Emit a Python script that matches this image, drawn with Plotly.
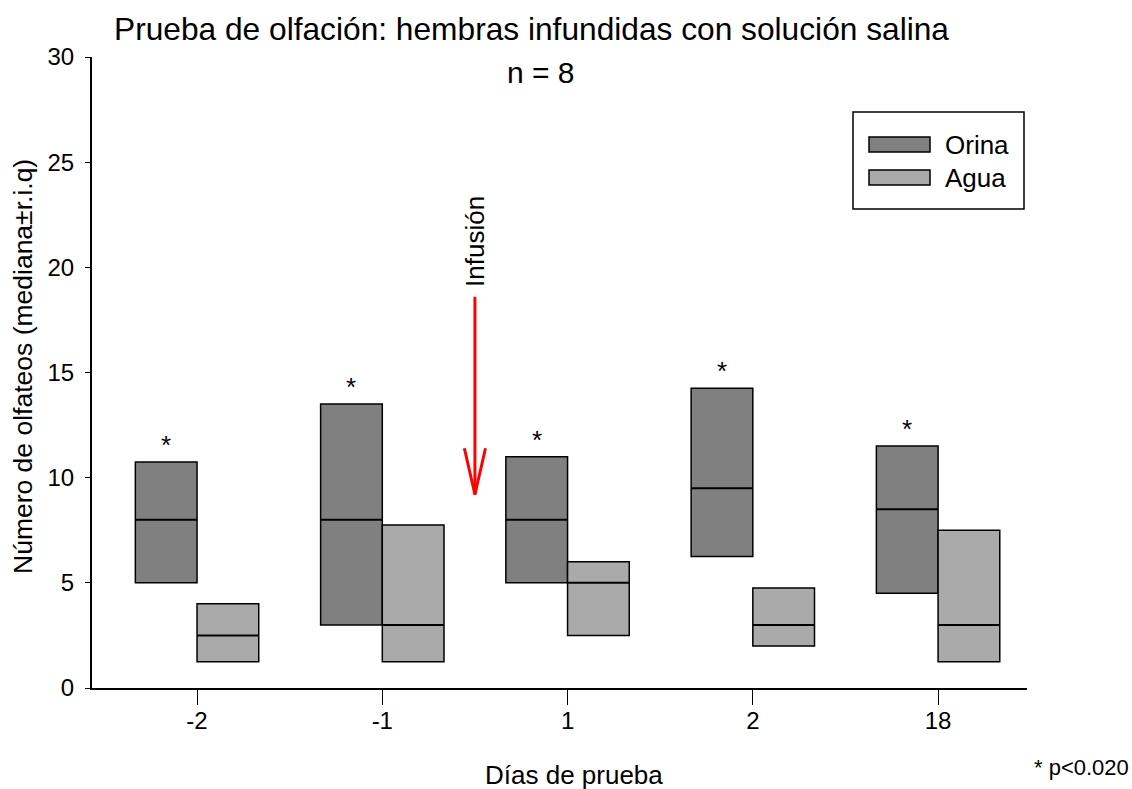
import plotly.graph_objects as go

# ---- data ----
dias = ["-2", "-1", "1", "2", "18"]
orina_q1 = [5.0, 3.0, 5.0, 6.25, 4.5]
orina_med = [8.0, 8.0, 8.0, 9.5, 8.5]
orina_q3 = [10.75, 13.5, 11.0, 14.25, 11.5]
agua_q1 = [1.25, 1.25, 2.5, 2.0, 1.25]
agua_med = [2.5, 3.0, 5.0, 3.0, 3.0]
agua_q3 = [4.0, 7.75, 6.0, 4.75, 7.5]
signif = [True, True, True, True, True]

W, H = 1132, 789
ML, MR, MT, MB = 92, 105, 57, 101
PW, PH = W - ML - MR, H - MT - MB
FONT = "Liberation Sans, Arial, sans-serif"
C_ORINA = "rgb(128,128,128)"
C_AGUA = "rgb(170,170,170)"
BW = 0.333


def px(x):
    return (x - ML) / PW


def py(y):
    return (H - MB - y) / PH


xs = list(range(len(dias)))
fig = go.Figure()
fig.add_trace(go.Bar(x=xs, base=orina_q1, y=[b - a for a, b in zip(orina_q1, orina_q3)],
                     width=BW, offset=-BW, marker=dict(color=C_ORINA, line=dict(color="black", width=1.5)),
                     name="Orina", showlegend=False))
fig.add_trace(go.Bar(x=xs, base=agua_q1, y=[b - a for a, b in zip(agua_q1, agua_q3)],
                     width=BW, offset=0, marker=dict(color=C_AGUA, line=dict(color="black", width=1.5)),
                     name="Agua", showlegend=False))

# median lines
mx, my = [], []
for i, m in enumerate(orina_med):
    mx += [i - BW, i, None]
    my += [m, m, None]
for i, m in enumerate(agua_med):
    mx += [i, i + BW, None]
    my += [m, m, None]
fig.add_trace(go.Scatter(x=mx, y=my, mode="lines", line=dict(color="black", width=2),
                         showlegend=False, hoverinfo="skip"))

ann = []
# asterisks
for i, (q3, s) in enumerate(zip(orina_q3, signif)):
    if s:
        ann.append(dict(x=i - BW / 2, y=q3, text="*", showarrow=False, yanchor="bottom",
                        font=dict(size=26, color="black", family=FONT), yshift=0))

# arrow for infusion
ARROW_X, ARROW_TOP, ARROW_TIP, V_Y, V_DX = 1.5, 18.6, 9.2, 11.4, 0.057
shapes = [
    dict(type="line", xref="x", yref="y", x0=ARROW_X, x1=ARROW_X, y0=ARROW_TOP, y1=ARROW_TIP,
         line=dict(color="red", width=3)),
    dict(type="line", xref="x", yref="y", x0=ARROW_X - V_DX, x1=ARROW_X, y0=V_Y, y1=ARROW_TIP,
         line=dict(color="red", width=3)),
    dict(type="line", xref="x", yref="y", x0=ARROW_X + V_DX, x1=ARROW_X, y0=V_Y, y1=ARROW_TIP,
         line=dict(color="red", width=3)),
]
ann.append(dict(x=ARROW_X, y=21.25, text="Infusión", textangle=-90, showarrow=False,
                xanchor="center", yanchor="middle",
                font=dict(size=26, color="black", family=FONT)))

# legend (custom)
shapes += [
    dict(type="rect", xref="paper", yref="paper", x0=px(853), x1=px(1024), y0=py(209), y1=py(112),
         line=dict(color="black", width=1.5), fillcolor="white"),
    dict(type="rect", xref="paper", yref="paper", x0=px(869), x1=px(930), y0=py(152), y1=py(137),
         line=dict(color="black", width=1.5), fillcolor=C_ORINA),
    dict(type="rect", xref="paper", yref="paper", x0=px(869), x1=px(930), y0=py(185), y1=py(170),
         line=dict(color="black", width=1.5), fillcolor=C_AGUA),
]


def txt(x, y, text, size, xanchor="center", angle=0):
    return dict(xref="paper", yref="paper", x=px(x), y=py(y), text=text, xanchor=xanchor,
                yanchor="middle", textangle=angle, showarrow=False,
                font=dict(size=size, color="black", family=FONT))


ann += [
    txt(943, 145, "Orina", 26, "left"),
    txt(943, 178, "Agua", 26, "left"),
    txt(531, 29, "Prueba de olfación: hembras infundidas con solución salina", 31.7),
    txt(541, 73, "n = 8", 30),
    txt(574, 775, "Días de prueba", 26),
    txt(23, 367, "Número de olfateos (mediana±r.i.q)", 26.5, "center", -90),
    txt(1131, 767, "* p<0.020", 22, "right"),
]

fig.update_layout(
    width=W, height=H, margin=dict(l=ML, r=MR, t=MT, b=MB),
    paper_bgcolor="white", plot_bgcolor="white",
    font=dict(family=FONT, size=24, color="black"),
    barmode="overlay", showlegend=False,
    shapes=shapes, annotations=ann,
    xaxis=dict(range=[-0.567, 4.48], tickvals=xs, ticktext=dias, ticks="outside", ticklen=15,
               tickwidth=1, tickcolor="black", showline=True, linecolor="black", linewidth=2,
               showgrid=False, zeroline=False, tickfont=dict(size=24, family=FONT),
               ticklabelstandoff=-5),
    yaxis=dict(range=[0, 30], tickvals=[0, 5, 10, 15, 20, 25, 30], ticks="outside", ticklen=5,
               tickwidth=1, tickcolor="black", showline=True, linecolor="black", linewidth=2,
               showgrid=False, zeroline=False, tickfont=dict(size=24, family=FONT),
               ticklabelstandoff=6),
)

fig.write_html("out.html")
